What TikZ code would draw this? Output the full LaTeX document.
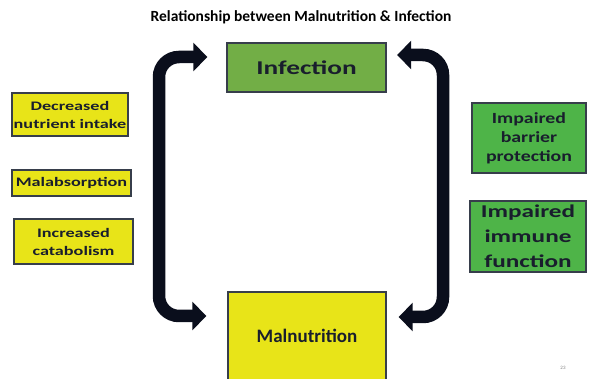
\documentclass[tikz,border=0pt]{standalone}
\usepackage{fontspec}
\setmainfont{Carlito}
\newfontfamily\widefont[FakeStretch=1.4]{Carlito}
\newfontfamily\halfwidefont[FakeStretch=1.28]{Carlito}
\usetikzlibrary{arrows.meta}

\definecolor{boxyellow}{RGB}{232,228,24}
\definecolor{infgreen}{RGB}{114,174,70}
\definecolor{sidegreen}{RGB}{78,180,72}
\definecolor{edgegray}{RGB}{55,62,75}
\definecolor{arrowblack}{RGB}{10,14,28}
\definecolor{txtdark}{RGB}{25,30,45}

\tikzset{
  sidebox/.style={draw=edgegray, line width=1.4pt, fill=boxyellow, align=center,
    inner sep=0pt, text=txtdark, font=\widefont\bfseries\fontsize{13}{18}\selectfont},
  greenbox/.style={draw=edgegray, line width=1.2pt, fill=sidegreen, align=center,
    inner sep=0pt, text=txtdark},
  bigarrow/.style={line width=12.5pt, draw=arrowblack, rounded corners=20pt,
    {Triangle[width=28pt,length=14pt]}-{Triangle[width=28pt,length=14pt]}}
}

\begin{document}
\begin{tikzpicture}[x=1pt,y=-1pt]
\useasboundingbox (0,0) rectangle (589,379);

\node (title) at (301,17) {\bfseries\fontsize{15.5}{16}\selectfont Relationship between Malnutrition \& Infection};

% main boxes
\node[draw=edgegray, line width=1.4pt, fill=infgreen, minimum width=159pt, minimum height=49pt,
  text=txtdark, font=\widefont\bfseries\fontsize{19.5}{20}\selectfont] (inf) at (306.5,67.5) {Infection};
\node[draw=edgegray, line width=1.4pt, fill=boxyellow, minimum width=158pt, minimum height=88pt,
  text=txtdark, font=\bfseries\fontsize{19}{20}\selectfont] (mal) at (307,336) {Malnutrition};

% causes on the left
\node[sidebox, minimum width=116pt, minimum height=43pt] (intake) at (70,114.5) {Decreased\\nutrient intake};
\node[sidebox, minimum width=119pt, minimum height=26pt] (absorb) at (71.5,183) {Malabsorption};
\node[sidebox, minimum width=119pt, minimum height=45pt] (catab) at (73.5,241.5) {Increased\\catabolism};

% effects on the right
\node[greenbox, minimum width=114pt, minimum height=70pt,
  font=\halfwidefont\bfseries\fontsize{15.5}{19}\selectfont] (barrier) at (529,138) {Impaired\\barrier\\protection};
\node[greenbox, minimum width=116pt, minimum height=71pt,
  font=\widefont\bfseries\fontsize{18}{25}\selectfont] (immune) at (528,236.5) {Impaired\\immune\\function};

% the cycle
\coordinate (lt) at ([shift={(-19,-10.5)}]inf.west);
\coordinate (lb) at ([shift={(-21,-20)}]mal.west);
\coordinate (rt) at ([shift={(10.5,-12.5)}]inf.east);
\coordinate (rb) at ([shift={(12,-19)}]mal.east);
\draw[bigarrow] (lt) -- (159,57) -- (159,316) -- (lb);
\draw[bigarrow] (rt) -- (443,55) -- (443,317) -- (rb);

\node[text=gray, font=\fontsize{5}{6}\selectfont] (page) at (563,368) {23};
\end{tikzpicture}
\end{document}
